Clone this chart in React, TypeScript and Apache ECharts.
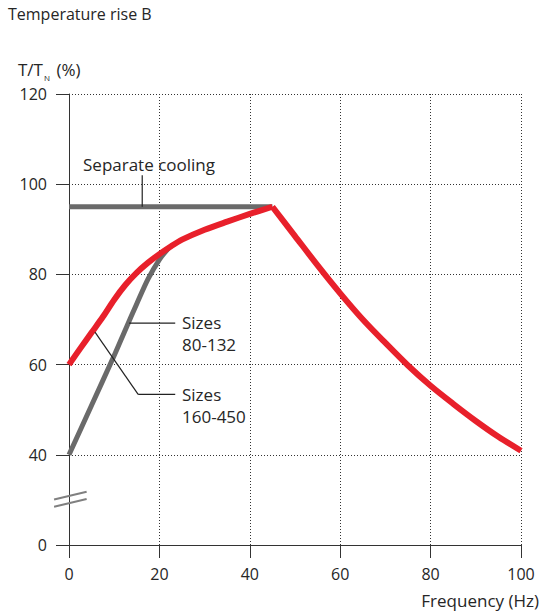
import React, { useEffect, useRef } from 'react';
import * as echarts from 'echarts';

// Sizes 80-132 (red)
const redFreq = [0, 2.5, 5, 7.5, 10, 12.5, 15, 17.5, 20, 22.5, 25, 30, 35, 40, 45, 50, 55, 60, 65, 70, 75, 80, 85, 90, 95, 100];
const redVal = [60, 63.6, 67.1, 70.6, 74.4, 77.7, 80.4, 82.6, 84.5, 86.2, 87.7, 89.9, 91.7, 93.4, 95, 88.5, 82, 75.8, 70, 64.8, 59.8, 55.3, 51.3, 47.5, 44, 40.9];
// Sizes 160-450 (grey)
const grayFreq = [0, 5, 10, 12.5, 15, 17.5, 20, 22];
const grayVal = [40, 51, 62, 67.8, 73.5, 79, 83.3, 85.8];
// Separate cooling
const sepFreq = [0, 45];
const sepVal = [95, 95];

const xTicks = [0, 20, 40, 60, 80, 100];
const yTickValues = [20, 40, 60, 80, 100, 120];
const yTickLabels = ['0', '40', '60', '80', '100', '120'];

const RED = '#E8202B';
const GRAY = '#6A6A6A';
const TEXT = '#262626';
const FONT = '"Open Sans", "Noto Sans", sans-serif';

export default function App() {
  const ref = useRef<HTMLDivElement>(null);
  useEffect(() => {
    if (!ref.current) return;
    const chart = echarts.init(ref.current, null, { renderer: 'svg' });
    const zip = (a: number[], b: number[]) => a.map((v, i) => [v, b[i]]);
    const redPts = zip(redFreq, redVal);
    const peak = redVal.indexOf(Math.max(...redVal));
    const axisLine = { show: true, lineStyle: { color: '#333', width: 1 } };
    const axisTick = { show: true, inside: false, length: 13, lineStyle: { color: '#333', width: 1 } };
    const splitLine = { show: true, lineStyle: { color: '#333', width: 1, type: [1, 2] as any } };
    chart.setOption({
      animation: false,
      grid: { left: 69, right: 22, top: 94, bottom: 66, containLabel: false },
      xAxis: {
        type: 'value', min: xTicks[0], max: xTicks[xTicks.length - 1], interval: 20,
        axisLine, axisTick, splitLine,
        axisLabel: { margin: 21, color: TEXT, fontSize: 16, fontFamily: FONT },
      },
      yAxis: {
        type: 'value', min: yTickValues[0], max: yTickValues[yTickValues.length - 1], interval: 20,
        axisLine, axisTick, splitLine,
        axisLabel: {
          margin: 22, color: TEXT, fontSize: 16, fontFamily: FONT,
          formatter: (v: number) => yTickLabels[yTickValues.indexOf(v)] ?? '',
        },
      },
      series: [
        { type: 'line', data: zip(sepFreq, sepVal), symbol: 'none', lineStyle: { color: GRAY, width: 5 }, z: 3 },
        { type: 'line', data: zip(grayFreq, grayVal), symbol: 'none', smooth: 0.3, lineStyle: { color: GRAY, width: 5, join: 'round' }, z: 3 },
        { type: 'line', name: 'Sizes 80-132', data: redPts.slice(0, peak + 1), symbol: 'none', smooth: 0.3, lineStyle: { color: RED, width: 6, join: 'round' }, z: 4 },
        { type: 'line', name: 'Sizes 80-132', data: redPts.slice(peak), symbol: 'none', smooth: 0.3, lineStyle: { color: RED, width: 6, join: 'round' }, z: 4 },
      ],
    });

    const p = (x: number, y: number) => chart.convertToPixel({ gridIndex: 0 }, [x, y]) as number[];
    const line = (a: number[], b: number[], color = '#222', w = 1.2) => ({
      type: 'line', shape: { x1: a[0], y1: a[1], x2: b[0], y2: b[1] }, style: { stroke: color, lineWidth: w }, z: 10,
    });
    const txt = (x: number, y: number, text: string, size: number, extra: any = {}) => ({
      type: 'text', x, y, z: 10,
      style: { text, fill: TEXT, font: `${size}px ${FONT}`, textAlign: 'left', textVerticalAlign: 'middle', ...extra },
    });
    const a = p(16.2, 95), b = p(16.2, 102);
    const s1 = p(13.3, 69.2), s2 = p(23.5, 69.2);
    const t1 = p(5.75, 67.2), t2 = p(15.3, 53.4), t3 = p(23.5, 53.4);
    const sepText = p(3.1, 104.3);
    const sz1 = p(25, 66.8), sz2 = p(25, 50.9);
    const br1a = p(-3.3, 30.1), br1b = p(3.9, 31.8), br2a = p(-3.3, 28.5), br2b = p(3.9, 30.2);

    chart.setOption({
      graphic: [
        txt(8, 14, 'Temperature rise B', 16),
        {
          type: 'text', x: 18, y: 69, z: 10,
          style: {
            text: '{a|T/T}{s|N}{a| (%)}', textAlign: 'left', textVerticalAlign: 'middle',
            rich: {
              a: { fontSize: 17, fontFamily: FONT, fill: TEXT, lineHeight: 25, verticalAlign: 'middle' },
              s: { fontSize: 8, fontFamily: FONT, fill: TEXT, lineHeight: 9, verticalAlign: 'bottom', padding: [0, 2, 0, 1] },
            },
          },
        },
        txt(539, 600, 'Frequency (Hz)', 17, { textAlign: 'right' }),
        txt(sepText[0], sepText[1], 'Separate cooling', 17),
        line(a, b),
        line(s1, s2),
        line(t1, t2),
        line(t2, t3),
        txt(sz1[0], sz1[1], 'Sizes\n80-132', 17, { lineHeight: 22 }),
        txt(sz2[0], sz2[1], 'Sizes\n160-450', 17, { lineHeight: 22 }),
        line(br1a, br1b, '#808080', 2),
        line(br2a, br2b, '#808080', 2),
      ],
    });
    return () => chart.dispose();
  }, []);
  return <div ref={ref} style={{ position: 'fixed', left: 0, top: 0, width: 543, height: 611, background: '#fff' }} />;
}
